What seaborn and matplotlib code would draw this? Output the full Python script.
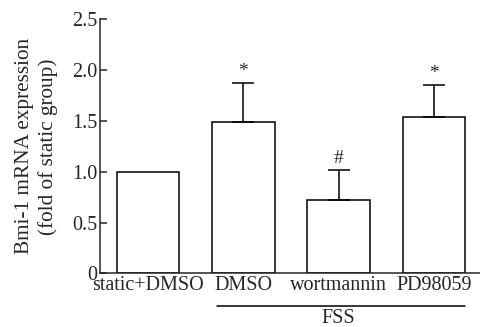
import numpy as np
import pandas as pd
import matplotlib
matplotlib.use('Agg')
import matplotlib.pyplot as plt
import matplotlib.transforms as mtransforms
import seaborn as sns

groups = ['static+DMSO', 'DMSO', 'wortmannin', 'PD98059']
means = [1.0, 1.49, 0.72, 1.54]
errs = [0.0, 0.38, 0.30, 0.31]
marks = ['', '*', '#', '*']

sns.set_style('ticks')
plt.rcParams['font.family'] = ['Liberation Serif', 'DejaVu Serif']
plt.rcParams['font.size'] = 14.5
plt.rcParams['axes.linewidth'] = 1.1

df = pd.DataFrame({'group': groups, 'value': means})

fig = plt.figure(figsize=(4.81, 3.27), dpi=100)
ax = fig.add_axes([0.208, 0.164, 0.792, 0.777])

sns.barplot(data=df, x='group', y='value', order=groups, color='white',
            edgecolor='black', linewidth=1.1, width=0.655, errorbar=None, ax=ax)

xs = np.arange(len(groups))
has_err = np.array(errs) > 0
ax.errorbar(xs[has_err], np.array(means)[has_err],
            yerr=[np.zeros(has_err.sum()), np.array(errs)[has_err]], fmt='none',
            ecolor='black', elinewidth=1.1, capsize=8, capthick=1.1)

for x, m, e, s in zip(xs, means, errs, marks):
    if s:
        ax.text(x, m + e + 0.03, s, ha='center', va='bottom', fontsize=14)

ax.set_ylim(0, 2.5)
ax.set_xlim(-0.5, 3.49)
ax.set_yticks([0, 0.5, 1.0, 1.5, 2.0, 2.5])
ax.set_yticklabels(['0', '0.5', '1.0', '1.5', '2.0', '2.5'])
ax.tick_params(direction='in', length=5, width=1.1, labelsize=14.5, pad=2)
ax.set_xlabel('')
ax.set_ylabel('Bmi-1 mRNA expression\n(fold of static group)', fontsize=15.3,
              labelpad=10, linespacing=1.25)
sns.despine(ax=ax)

# FSS group bracket
trans = mtransforms.blended_transform_factory(ax.transData, ax.transAxes)
ax.plot([0.73, 3.32], [-0.129, -0.129], color='black', lw=1.1,
        transform=trans, clip_on=False)
ax.text(2.0, -0.139, 'FSS', ha='center', va='top', fontsize=14.5, transform=trans)

fig.savefig('out.png', dpi=100)
